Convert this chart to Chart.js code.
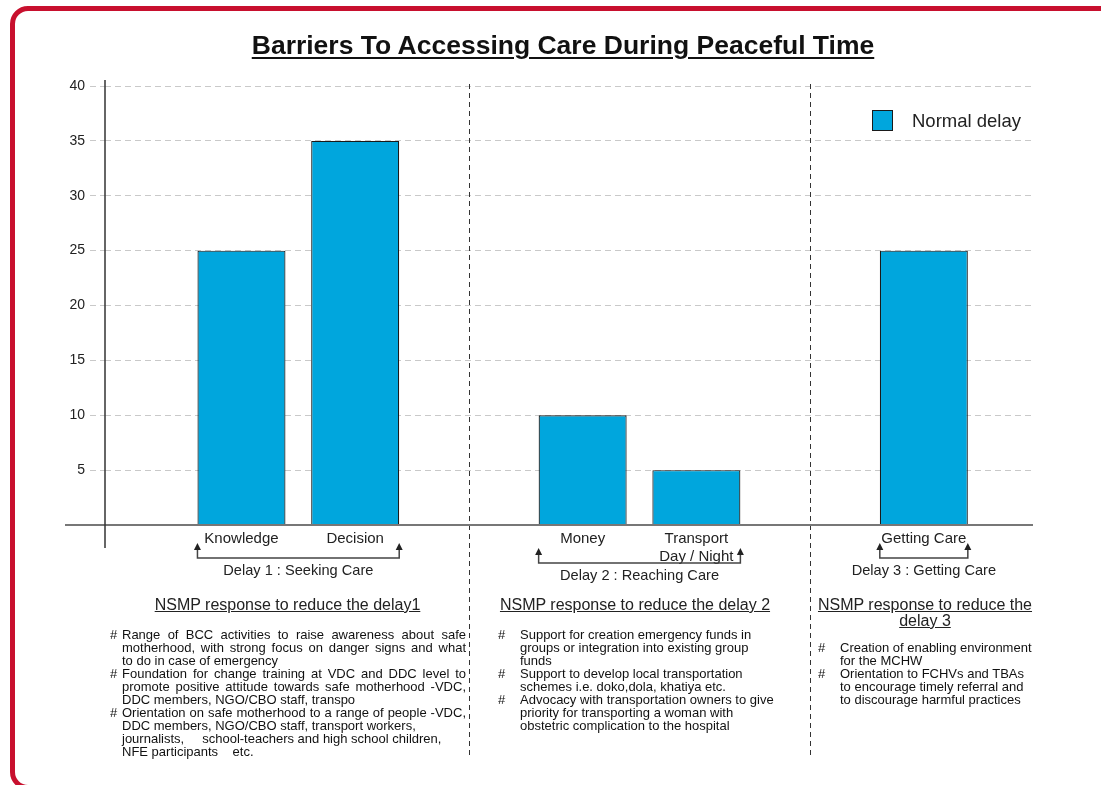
<!DOCTYPE html>
<html>
<head>
<meta charset="utf-8">
<title>Barriers To Accessing Care During Peaceful Time</title>
<script src="https://cdn.jsdelivr.net/npm/chart.js@4.4.1/dist/chart.umd.min.js"></script>
<style>
  body { margin: 0; background: #fff; font-family: "Liberation Sans", Arial, sans-serif; color: #1a1a1a; }
  #page { position: relative; width: 1101px; height: 785px; overflow: hidden; }
  #frame { position: absolute; left: 10px; top: 6px; width: 1130px; height: 784px; border: 5px solid #c8102e; border-radius: 18px; box-sizing: border-box; }
  #box { position: absolute; left: 0; top: 0; width: 1101px; height: 785px; }
  #title { position: absolute; left: 0; top: 29px; width: 1126px; text-align: center; font-weight: bold; font-size: 26.5px; line-height: 32px; text-decoration: underline; text-decoration-thickness: 2px; text-underline-offset: 3px; color: #111; }
  .head { position: absolute; text-align: center; font-size: 16px; line-height: 16px; text-decoration: underline; color: #222; }
  .notes { position: absolute; font-size: 13px; line-height: 13px; color: #111; }
  .notes .ln { white-space: pre; }
  .notes .j { text-align: justify; text-align-last: justify; }
  .notes .hash { position: absolute; }
</style>
</head>
<body>
<div id="page">
  <div id="box"><canvas id="chart"></canvas></div>
  <div id="frame"></div>
  <div id="title">Barriers To Accessing Care During Peaceful Time</div>

  <div class="head" style="left:100px; top:597px; width:375px;">NSMP response to reduce the delay1</div>
  <div class="notes" style="left:122px; top:628px; width:344px;">
    <span class="hash" style="left:-12px; top:0;">#</span>
    <div class="ln j">Range of BCC activities to raise awareness about safe</div>
    <div class="ln j">motherhood, with strong focus on danger signs and what</div>
    <div class="ln">to do in case of emergency</div>
    <span class="hash" style="left:-12px; top:39px;">#</span>
    <div class="ln j">Foundation for change training at VDC and DDC level to</div>
    <div class="ln j">promote positive attitude towards safe motherhood -VDC,</div>
    <div class="ln">DDC members, NGO/CBO staff, transpo</div>
    <span class="hash" style="left:-12px; top:78px;">#</span>
    <div class="ln j">Orientation on safe motherhood to a range of people -VDC,</div>
    <div class="ln">DDC members, NGO/CBO staff, transport workers,</div>
    <div class="ln">journalists,     school-teachers and high school children,</div>
    <div class="ln">NFE participants    etc.</div>
  </div>

  <div class="head" style="left:480px; top:597px; width:310px;">NSMP response to reduce the delay 2</div>
  <div class="notes" style="left:520px; top:628px; width:270px;">
    <span class="hash" style="left:-22px; top:0;">#</span>
    <div class="ln">Support for creation emergency funds in</div>
    <div class="ln">groups or integration into existing group</div>
    <div class="ln">funds</div>
    <span class="hash" style="left:-22px; top:39px;">#</span>
    <div class="ln">Support to develop local transportation</div>
    <div class="ln">schemes i.e. doko,dola, khatiya etc.</div>
    <span class="hash" style="left:-22px; top:65px;">#</span>
    <div class="ln">Advocacy with transportation owners to give</div>
    <div class="ln">priority for transporting a woman with</div>
    <div class="ln">obstetric complication to the hospital</div>
  </div>

  <div class="head" style="left:810px; top:597px; width:230px;">NSMP response to reduce the<br>delay 3</div>
  <div class="notes" style="left:840px; top:641px; width:220px;">
    <span class="hash" style="left:-22px; top:0;">#</span>
    <div class="ln">Creation of enabling environment</div>
    <div class="ln">for the MCHW</div>
    <span class="hash" style="left:-22px; top:26px;">#</span>
    <div class="ln">Orientation to FCHVs and TBAs</div>
    <div class="ln">to encourage timely referral and</div>
    <div class="ln">to discourage harmful practices</div>
  </div>
</div>

<script>
// blank entries separate the three delay groups
const categories = ['', 'Knowledge', 'Decision', '', 'Money', ['Transport', 'Day / Night'], '', 'Getting Care'];
const normalDelay = [null, 25, 35, null, 10, 5, null, 25];
const delayLabels = ['Delay 1 : Seeking Care', 'Delay 2 : Reaching Care', 'Delay 3 : Getting Care'];
const yTickValues = [5, 10, 15, 20, 25, 30, 35, 40];
const seriesName = 'Normal delay';

const barColor = '#00a6dd';
const inkColor = '#1a1a1a';

// runs of non-blank categories
const groups = [];
let run = [];
categories.forEach((c, i) => {
    if (c) { run.push(i); return; }
    if (run.length) groups.push(run);
    run = [];
});
if (run.length) groups.push(run);

const points = categories
    .map((c, i) => ({ x: i, y: normalDelay[i] }))
    .filter(p => p.y !== null);

function line(ctx, x1, y1, x2, y2) {
    ctx.beginPath();
    ctx.moveTo(x1, y1);
    ctx.lineTo(x2, y2);
    ctx.stroke();
}

const overlay = {
    id: 'overlay',
    afterDatasetsDraw(chart) {
        const { ctx, chartArea, scales: { x, y } } = chart;
        const y0 = y.getPixelForValue(0);
        const barW = chart.getDatasetMeta(0).data[0].width;
        ctx.save();

        // dashed separators between groups
        ctx.strokeStyle = '#333';
        ctx.lineWidth = 1;
        ctx.setLineDash([5, 4]);
        categories.forEach((c, i) => {
            if (c || i === 0) return;
            const px = Math.round(x.getPixelForValue(i)) + 0.5;
            line(ctx, px, chartArea.top - 2, px, 755);
        });
        ctx.setLineDash([]);

        // axes
        ctx.strokeStyle = '#777';
        ctx.lineWidth = 2;
        line(ctx, 65, y0, chartArea.right, y0);
        ctx.strokeStyle = '#333';
        ctx.lineWidth = 1.5;
        line(ctx, chartArea.left, chartArea.top - 6, chartArea.left, y0 + 23);

        // group brackets
        ctx.strokeStyle = '#444';
        ctx.fillStyle = '#222';
        ctx.lineWidth = 1.5;
        ctx.font = '14.6px "Liberation Sans", Arial, sans-serif';
        ctx.textAlign = 'center';
        ctx.textBaseline = 'middle';
        groups.forEach((g, gi) => {
            const left = x.getPixelForValue(g[0]) - barW / 2;
            const right = x.getPixelForValue(g[g.length - 1]) + barW / 2;
            const lines = Math.max(...g.map(i => Array.isArray(categories[i]) ? categories[i].length : 1));
            const hy = y0 + 28 + 5 * lines;
            ctx.beginPath();
            ctx.moveTo(left, hy - 11);
            ctx.lineTo(left, hy);
            ctx.lineTo(right, hy);
            ctx.lineTo(right, hy - 11);
            ctx.stroke();
            [left, right].forEach(ax => {
                ctx.beginPath();
                ctx.moveTo(ax, hy - 15);
                ctx.lineTo(ax - 3.5, hy - 8);
                ctx.lineTo(ax + 3.5, hy - 8);
                ctx.closePath();
                ctx.fill();
            });
            ctx.fillText(delayLabels[gi], (left + right) / 2, hy + 13);
        });

        // legend
        const lx = chartArea.right - 161;
        const ly = chartArea.top + 24;
        ctx.fillStyle = barColor;
        ctx.fillRect(lx, ly, 21, 21);
        ctx.strokeStyle = inkColor;
        ctx.lineWidth = 1;
        ctx.strokeRect(lx + 0.5, ly + 0.5, 20, 20);
        ctx.fillStyle = '#222';
        ctx.textAlign = 'left';
        ctx.font = '18.5px "Liberation Sans", Arial, sans-serif';
        ctx.fillText(seriesName, lx + 40, ly + 12);

        ctx.restore();
    }
};

new Chart(document.getElementById('chart'), {
    type: 'bar',
    data: {
        datasets: [{
            label: seriesName,
            data: points,
            backgroundColor: barColor,
            borderColor: inkColor,
            borderWidth: 1.2,
            borderSkipped: 'bottom',
            barPercentage: 0.774,
            categoryPercentage: 1
        }]
    },
    options: {
        responsive: true,
        maintainAspectRatio: false,
        animation: false,
        layout: { padding: { top: 86, right: 68, bottom: 200, left: 0 } },
        plugins: {
            legend: { display: false },
            title: { display: false },
            tooltip: { enabled: false }
        },
        scales: {
            x: {
                type: 'linear',
                offset: false,
                min: -0.2,
                max: 7.96,
                grid: { display: false, drawTicks: false },
                border: { display: false },
                afterBuildTicks: scale => {
                    scale.ticks = categories
                        .map((c, i) => (c ? { value: i } : null))
                        .filter(Boolean);
                },
                afterFit: scale => { scale.height = 60; },
                ticks: {
                    autoSkip: false,
                    maxRotation: 0,
                    padding: 5,
                    color: '#222',
                    font: { family: '"Liberation Sans", Arial, sans-serif', size: 15 },
                    callback: value => categories[value]
                }
            },
            y: {
                min: 0,
                max: 40,
                afterBuildTicks: scale => {
                    scale.ticks = yTickValues.map(v => ({ value: v }));
                },
                afterFit: scale => { scale.width = 105; },
                grid: {
                    color: '#c9c9c9',
                    lineWidth: 1,
                    tickLength: 15,
                    tickColor: '#c9c9c9',
                    tickBorderDash: [6, 4]
                },
                border: { display: false, dash: [6, 4] },
                ticks: {
                    padding: 5,
                    color: '#222',
                    font: { family: '"Liberation Sans", Arial, sans-serif', size: 14 }
                }
            }
        }
    },
    plugins: [overlay]
});
</script>
</body>
</html>
